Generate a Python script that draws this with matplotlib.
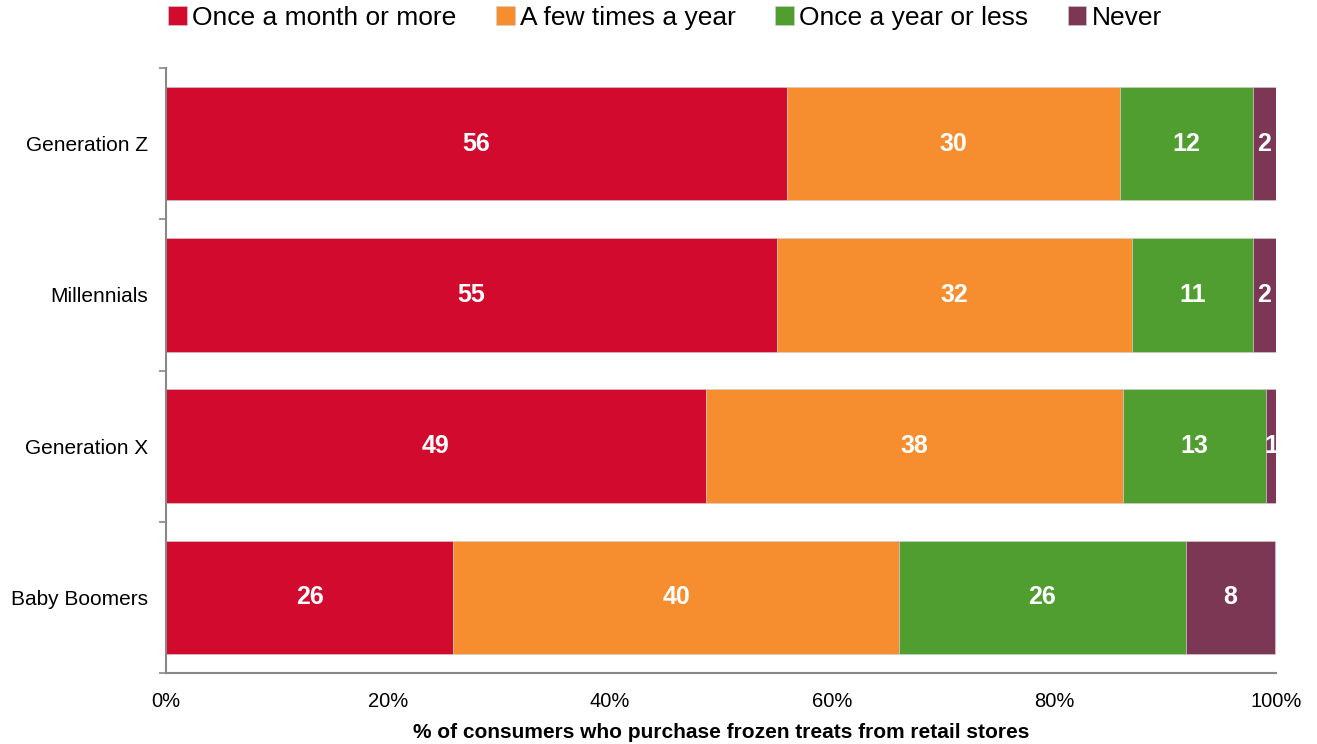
import numpy as np
import matplotlib
matplotlib.use('Agg')
import matplotlib.pyplot as plt

plt.rcParams['font.family'] = ['Liberation Sans', 'DejaVu Sans']

# %% data
groups = ['Generation Z', 'Millennials', 'Generation X', 'Baby Boomers']
series = ['Once a month or more', 'A few times a year', 'Once a year or less', 'Never']
monthly = [55.9, 55.0, 48.6, 25.9]
few_times = [30.0, 32.0, 37.6, 40.1]
yearly = [12.0, 10.9, 12.9, 25.9]
never = [2.1, 2.1, 1.0, 8.0]
colors = ['#D10A2E', '#F68E2F', '#509E2F', '#7B3754']
x_ticks = [0, 20, 40, 60, 80, 100]
x_label = '% of consumers who purchase frozen treats from retail stores'

# %% plot
fig = plt.figure(figsize=(13.17, 7.44), dpi=100)
ax = fig.add_axes([0.126, 0.0954, 0.843, 0.8132])

y = np.arange(len(groups))
left = np.zeros(len(groups))
for name, vals, col in zip(series, [monthly, few_times, yearly, never], colors):
    vals = np.array(vals)
    ax.barh(y, vals, left=left, height=0.75, color=col, label=name,
            edgecolor='#d0d0d0', linewidth=0.4)
    for yi, l, v in zip(y, left, vals):
        ax.text(l + v / 2, yi, '%.0f' % v, ha='center', va='center',
                color='white', fontsize=18, fontweight='bold')
    left = left + vals

ax.set_xlim(0, 100)
ax.set_ylim(3.5, -0.5)
ax.set_yticks(y)
ax.set_yticklabels(groups, fontsize=15)
ax.set_yticks(np.arange(-0.5, 4, 1), minor=True)
ax.tick_params(axis='y', which='major', length=0, pad=13)
ax.tick_params(axis='y', which='minor', length=5, width=1.2, color='#888888', direction='out')
ax.set_xticks(x_ticks)
ax.set_xticklabels(['%d%%' % t for t in x_ticks], fontsize=14.5)
ax.tick_params(axis='x', length=0, pad=14)
ax.set_xlabel(x_label, fontsize=15, fontweight='bold', labelpad=8)

for s in ['top', 'right']:
    ax.spines[s].set_visible(False)
for s in ['left', 'bottom']:
    ax.spines[s].set_color('#888888')
    ax.spines[s].set_linewidth(1.5)

fig.legend(loc='upper center', bbox_to_anchor=(0.505, 1.024), ncol=4, frameon=False,
           fontsize=19, handlelength=0.7, handleheight=0.7, handletextpad=0.2,
           columnspacing=1.5)

plt.savefig('out.png', dpi=100)
